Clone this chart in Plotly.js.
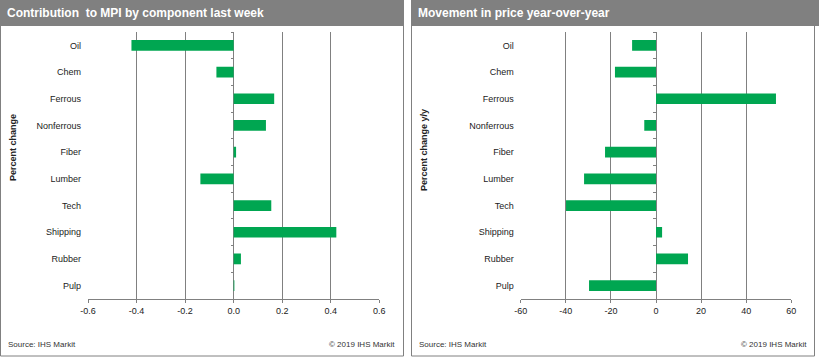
<!DOCTYPE html>
<html>
<head>
<meta charset="utf-8">
<script src="https://cdn.plot.ly/plotly-3.0.1.min.js"></script>
<style>
html,body{margin:0;padding:0;background:#fff;}
#chart{width:819px;height:359px;}
</style>
</head>
<body>
<div id="chart"></div>
<script>
const categories = ['Oil','Chem','Ferrous','Nonferrous','Fiber','Lumber','Tech','Shipping','Rubber','Pulp'];
const contribution = [-0.421,-0.071,0.167,0.133,0.010,-0.137,0.155,0.423,0.030,0.003];
const yoyChange = [-10.6,-18.2,53.2,-5.2,-22.6,-31.9,-39.9,2.7,14.2,-29.7];
const leftTickVals = [-0.6,-0.4,-0.2,0,0.2,0.4,0.6];
const leftTickText = ['-0.6','-0.4','-0.2','0.0','0.2','0.4','0.6'];
const rightTickVals = [-60,-40,-20,0,20,40,60];
const rightTickText = ['-60','-40','-20','0','20','40','60'];
const leftTitle = 'Contribution  to MPI by component last week';
const rightTitle = 'Movement in price year-over-year';
const leftYTitle = 'Percent change';
const rightYTitle = 'Percent change y/y';
const sourceText = 'Source: IHS Markit';
const copyrightText = '\u00a9 2019 IHS Markit';

const W = 819, H = 359;
const px = v => v / W;
const py = v => 1 - v / H;
const GREEN = '#00a651';
const GRAY = '#808080';
const FONT = 'Liberation Sans, Arial, sans-serif';

const plotTop = 32, plotBottom = 299;
const L = {x0: 88, x1: 379.3, zero: 233.5};
const R = {x0: 520.7, x1: 791.3, zero: 656};

function barTrace(vals, xa, ya, visible) {
  return {
    type: 'bar', orientation: 'h', x: vals, y: categories,
    xaxis: xa, yaxis: ya, width: 0.4,
    marker: {color: GREEN, line: {width: 0}},
    opacity: visible ? 1 : 0, hoverinfo: 'skip', showlegend: false
  };
}

const data = [
  barTrace(contribution, 'x', 'y', true),
  barTrace(yoyChange, 'x2', 'y2', true),
  barTrace(contribution, 'x', 'y3', false),
  barTrace(yoyChange, 'x2', 'y4', false)
];

function xAxis(domain, range, tv, tt) {
  return {
    domain: domain, range: range, tickmode: 'array', tickvals: tv, ticktext: tt,
    showgrid: true, gridcolor: GRAY, gridwidth: 1, zeroline: true, zerolinecolor: GRAY, zerolinewidth: 1,
    showline: true, linecolor: GRAY, linewidth: 1, ticks: 'outside', ticklen: 3, tickcolor: GRAY,
    tickfont: {family: FONT, size: 9, color: '#222'}, fixedrange: true
  };
}
function yAxis(anchor) {
  return {
    domain: [py(plotBottom), py(plotTop)], anchor: anchor, type: 'category',
    categoryorder: 'array', categoryarray: categories, range: [9.5, -0.5],
    showgrid: false, zeroline: false, showline: false, ticks: '',
    ticklabelstandoff: 6,
    tickfont: {family: FONT, size: 9, color: '#222'}, fixedrange: true
  };
}
function yTickAxis(over, pos) {
  return {
    overlaying: over, anchor: 'free', position: pos, type: 'category',
    categoryorder: 'array', categoryarray: categories, range: [9.5, -0.5],
    showgrid: false, zeroline: false, showline: false, showticklabels: false,
    ticks: 'outside', tickson: 'boundaries', ticklen: 3, tickcolor: GRAY, fixedrange: true
  };
}

const shapes = [
  {type: 'rect', xref: 'paper', yref: 'paper', x0: px(0.5), x1: px(403.5), y0: py(356), y1: py(0), line: {color: GRAY, width: 1}, fillcolor: 'rgba(0,0,0,0)', layer: 'below'},
  {type: 'rect', xref: 'paper', yref: 'paper', x0: px(0), x1: px(404), y0: py(26), y1: py(0), line: {width: 0}, fillcolor: GRAY, layer: 'below'},
  {type: 'rect', xref: 'paper', yref: 'paper', x0: px(411.5), x1: px(814.5), y0: py(356), y1: py(0), line: {color: GRAY, width: 1}, fillcolor: 'rgba(0,0,0,0)', layer: 'below'},
  {type: 'rect', xref: 'paper', yref: 'paper', x0: px(411), x1: px(819), y0: py(26), y1: py(0), line: {width: 0}, fillcolor: GRAY, layer: 'below'}
];

function ann(text, x, y, opts) {
  return Object.assign({
    text: text, xref: 'paper', yref: 'paper', x: px(x), y: py(y), showarrow: false,
    xanchor: 'left', yanchor: 'middle', font: {family: FONT, size: 8, color: '#333'}
  }, opts || {});
}

const annotations = [
  ann('<b>' + leftTitle + '</b>', 5, 13, {font: {family: FONT, size: 12, color: '#fff'}}),
  ann('<b>' + rightTitle + '</b>', 416, 13, {font: {family: FONT, size: 12, color: '#fff'}}),
  ann('<b>' + leftYTitle + '</b>', 13, 148, {xanchor: 'center', textangle: -90, font: {family: FONT, size: 9, color: '#222'}}),
  ann('<b>' + rightYTitle + '</b>', 424, 150, {xanchor: 'center', textangle: -90, font: {family: FONT, size: 9, color: '#222'}}),
  ann(sourceText, 6, 344),
  ann(sourceText, 417, 344),
  ann(copyrightText, 397, 344, {xanchor: 'right'}),
  ann(copyrightText, 809, 344, {xanchor: 'right'})
];

const layout = {
  width: W, height: H, margin: {l: 0, r: 0, t: 0, b: 0},
  paper_bgcolor: '#fff', plot_bgcolor: 'rgba(0,0,0,0)',
  showlegend: false, bargap: 0.6,
  font: {family: FONT},
  xaxis: Object.assign(xAxis([px(L.x0), px(L.x1)], [-0.6, 0.6], leftTickVals, leftTickText), {anchor: 'y'}),
  xaxis2: Object.assign(xAxis([px(R.x0), px(R.x1)], [-60, 60], rightTickVals, rightTickText), {anchor: 'y2'}),
  yaxis: yAxis('x'),
  yaxis2: yAxis('x2'),
  yaxis3: yTickAxis('y', px(L.zero)),
  yaxis4: yTickAxis('y2', px(R.zero)),
  shapes: shapes, annotations: annotations
};

Plotly.newPlot('chart', data, layout, {displayModeBar: false, staticPlot: true});
</script>
</body>
</html>
